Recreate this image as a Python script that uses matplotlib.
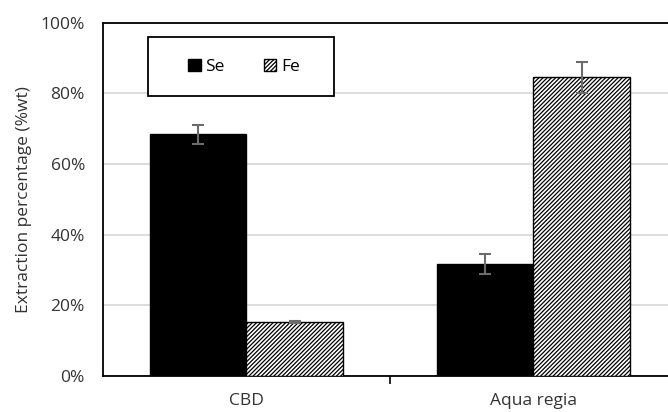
import matplotlib
matplotlib.use("Agg")
import matplotlib.pyplot as plt
import numpy as np
from matplotlib.patches import Rectangle
from matplotlib.ticker import PercentFormatter

# Data (extraction percentage, %wt)
categories = ["CBD", "Aqua regia"]
se_values = [68.4, 31.7]
se_errors = [2.6, 2.9]
fe_values = [15.4, 84.6]
fe_errors = [0.3, 4.4]

plt.rcParams['font.family'] = ['Open Sans', 'DejaVu Sans']
plt.rcParams['hatch.linewidth'] = 0.9

fig = plt.figure(figsize=(6.68, 4.12), dpi=100)
# right edge of the axes lies just outside the picture, as in the reference
ax = fig.add_axes([103 / 668, 36 / 412, 574 / 668, 353.3 / 412])

x = np.arange(len(categories))
barWidth = 0.336
errColor = '#6b6b6b'
textColor = '#333333'
fs = 12.5

ax.bar(x - barWidth / 2, se_values, width=barWidth, color='black',
       edgecolor='black', linewidth=1, label='Se', zorder=3)
ax.bar(x + barWidth / 2, fe_values, width=barWidth, color='white',
       edgecolor='black', hatch='////////', linewidth=1, label='Fe', zorder=3)

ax.errorbar(x - barWidth / 2, se_values, yerr=se_errors, fmt='none',
            ecolor=errColor, elinewidth=1.5, capsize=4, capthick=1.5, zorder=4)
ax.errorbar(x + barWidth / 2, fe_values, yerr=fe_errors, fmt='none',
            ecolor=errColor, elinewidth=1.5, capsize=4, capthick=1.5, zorder=4)

ax.set_xlim(-0.5, 1.5)
ax.set_ylim(0, 100)
ax.set_yticks([0, 20, 40, 60, 80, 100])
ax.yaxis.set_major_formatter(PercentFormatter(decimals=0))
ax.grid(axis='y', color='#d9d9d9', linewidth=1.3, zorder=0)
ax.set_axisbelow(True)

ax.set_xticks(x)
ax.set_xticklabels(categories)
ax.set_xticks([0.5], minor=True)
ax.tick_params(axis='x', which='major', length=0, pad=12, labelsize=fs,
               labelcolor=textColor)
ax.tick_params(axis='x', which='minor', length=6, width=1.2, color='black')
ax.tick_params(axis='y', length=0, pad=13, labelsize=fs, labelcolor=textColor)

for side in ['left', 'top', 'bottom', 'right']:
    ax.spines[side].set_linewidth(1.3)
    ax.spines[side].set_color('black')

ax.set_ylabel('Extraction percentage (%wt)', fontsize=fs, color=textColor)
ax.yaxis.set_label_coords(-0.124, 0.5)

# legend box, placed in figure coordinates
box = Rectangle((148 / 668, 1 - 96 / 412), 186 / 668, 59 / 412,
                transform=fig.transFigure, facecolor='white',
                edgecolor='black', linewidth=1.3, zorder=5, clip_on=False)
ax.add_patch(box)
leg = ax.legend(loc='center', bbox_to_anchor=(244 / 668, 1 - 66.7 / 412),
                bbox_transform=fig.transFigure, ncol=2, frameon=False,
                handlelength=0.7, handleheight=0.7, handletextpad=0.25,
                columnspacing=2.3, fontsize=fs)
leg.set_zorder(6)

fig.savefig('out.png', dpi=100)
